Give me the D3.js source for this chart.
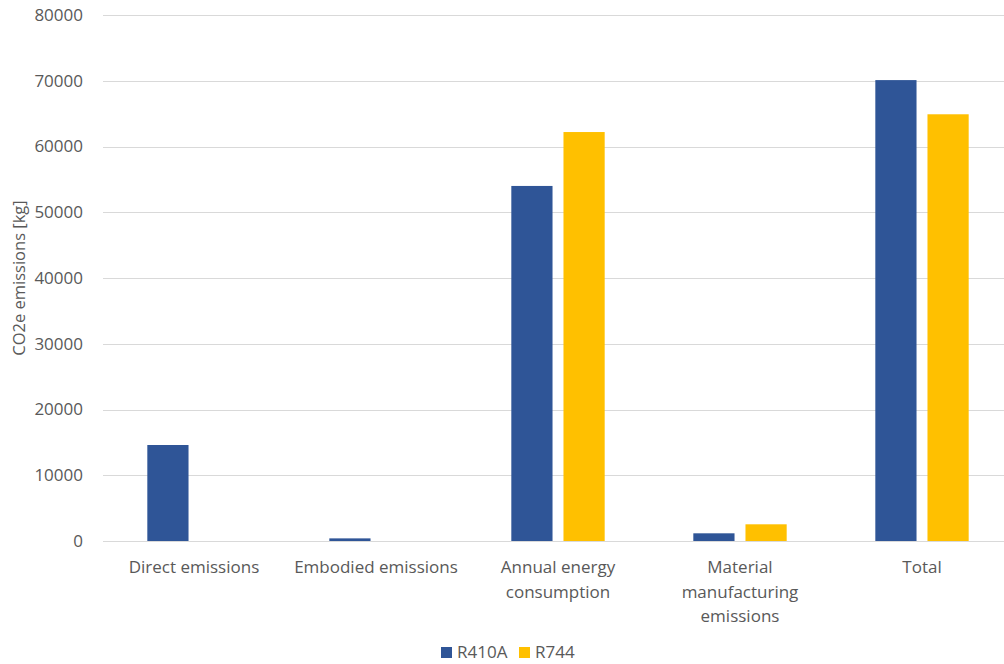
<!DOCTYPE html>
<html>
<head>
<meta charset="utf-8">
<script src="https://cdn.jsdelivr.net/npm/d3@7"></script>
<style>
  html, body { margin: 0; padding: 0; background: #fff; }
  svg { display: block; font-family: "Open Sans", sans-serif; }
</style>
</head>
<body>
<svg id="chart" width="1004" height="664"></svg>
<script>
// Lifecycle CO2e emissions by source, two refrigerants
const categories = [
  ["Direct emissions"],
  ["Embodied emissions"],
  ["Annual energy", "consumption"],
  ["Material", "manufacturing", "emissions"],
  ["Total"]
];
const seriesNames = ["R410A", "R744"];
const r410aValues = [14600, 400, 54000, 1170, 70100];
const r744Values = [0, 0, 62200, 2540, 64900];
const yTicks = [0, 10000, 20000, 30000, 40000, 50000, 60000, 70000, 80000];
const colors = ["#2F5597", "#FFC000"];

const svg = d3.select("#chart");
const margin = { left: 103, right: -9, top: 15, bottom: 123 };
const W = 1004, H = 664;

const labels = categories.map(c => c.join(" "));
const x = d3.scaleBand().domain(labels).range([margin.left, W - margin.right]);
const groupW = x.bandwidth() * 0.513;
const x1 = d3.scaleBand().domain(seriesNames).range([0, groupW]).paddingInner(0.21);
const y = d3.scaleLinear().domain([0, 80000]).range([H - margin.bottom, margin.top]);

// gridlines
svg.append("g")
  .selectAll("line")
  .data(yTicks)
  .join("line")
  .attr("x1", margin.left)
  .attr("x2", W)
  .attr("y1", d => Math.round(y(d)) + 0.5)
  .attr("y2", d => Math.round(y(d)) + 0.5)
  .attr("stroke", "#d9d9d9")
  .attr("stroke-width", 1);

// y tick labels
svg.append("g")
  .selectAll("text")
  .data(yTicks)
  .join("text")
  .attr("x", 83)
  .attr("y", d => y(d))
  .attr("dy", "0.35em")
  .attr("text-anchor", "end")
  .attr("fill", "#595959")
  .attr("font-size", 17)
  .text(d => d);

// y axis title
svg.append("text")
  .attr("transform", `translate(25,${(y(0) + y(80000)) / 2}) rotate(-90)`)
  .attr("text-anchor", "middle")
  .attr("fill", "#595959")
  .attr("font-size", 16.5)
  .text("CO2e emissions [kg]");

// bars
const rows = labels.map((l, i) => ({ label: l, values: [r410aValues[i], r744Values[i]] }));
const groups = svg.append("g")
  .selectAll("g")
  .data(rows)
  .join("g")
  .attr("transform", d => `translate(${x(d.label) + (x.bandwidth() - groupW) / 2},0)`);

groups.selectAll("rect")
  .data(d => d.values.map((v, j) => ({ name: seriesNames[j], value: v, color: colors[j] })))
  .join("rect")
  .attr("x", d => x1(d.name))
  .attr("width", x1.bandwidth())
  .attr("y", d => y(d.value))
  .attr("height", d => y(0) - y(d.value))
  .attr("fill", d => d.color);

// category labels
const catG = svg.append("g")
  .selectAll("text")
  .data(categories)
  .join("text")
  .attr("x", (d, i) => x(labels[i]) + x.bandwidth() / 2)
  .attr("y", 573)
  .attr("text-anchor", "middle")
  .attr("fill", "#595959")
  .attr("font-size", 17);
catG.selectAll("tspan")
  .data(d => d)
  .join("tspan")
  .attr("x", function () { return this.parentNode.getAttribute("x"); })
  .attr("dy", (d, i) => i === 0 ? 0 : 24.5)
  .text(d => d);

// legend
const legend = svg.append("g").attr("transform", "translate(441,647)");
const legendX = [0, 78];
seriesNames.forEach((name, i) => {
  const g = legend.append("g").attr("transform", `translate(${legendX[i]},0)`);
  g.append("rect").attr("width", 11).attr("height", 11).attr("fill", colors[i]);
  g.append("text")
    .attr("x", 16)
    .attr("y", 5.5)
    .attr("dy", "0.35em")
    .attr("fill", "#595959")
    .attr("font-size", 17)
    .text(name);
});
</script>
</body>
</html>
